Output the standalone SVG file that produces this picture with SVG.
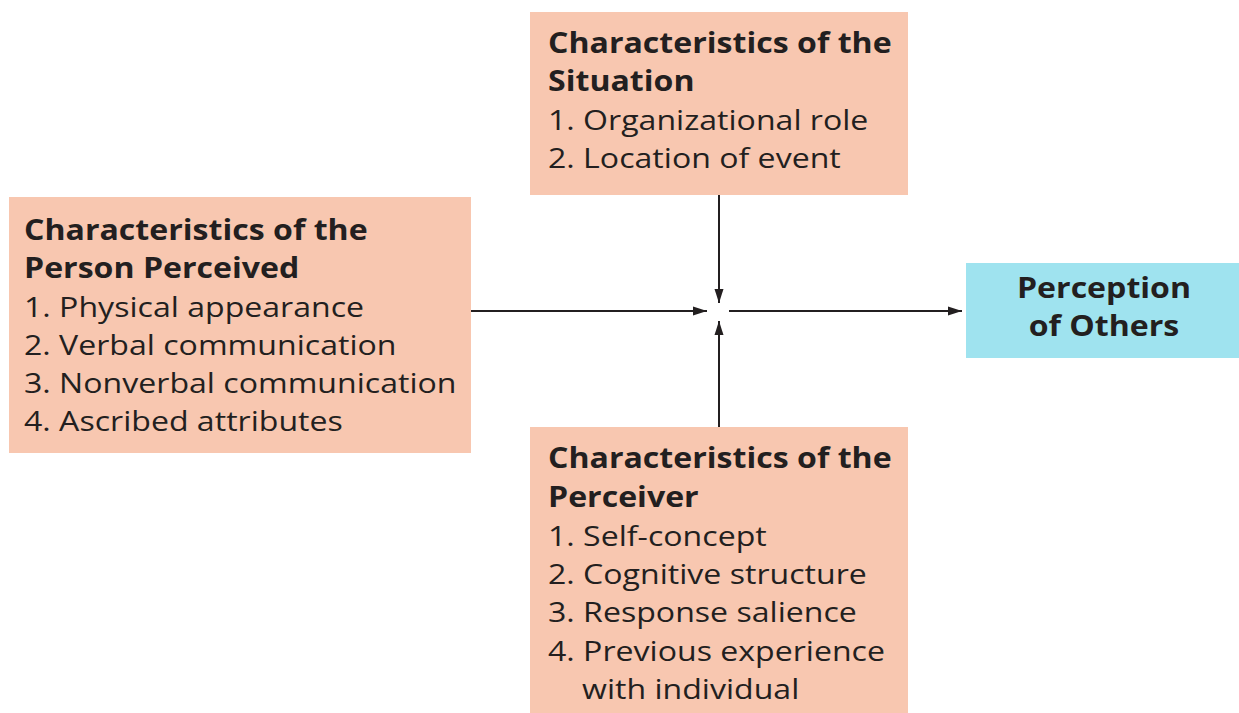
<svg xmlns="http://www.w3.org/2000/svg" width="1239" height="713" viewBox="0 0 1239 713">
<defs>
<style>
.box{fill:#F8C7B0;}
.out{fill:#9FE3EF;}
text{font-family:"Open Sans","Noto Sans",sans-serif;font-size:28px;fill:#231F20;}
.b{font-weight:bold;}
.ln{stroke:#231F20;stroke-width:2;fill:none;}
</style>
<marker id="ah" viewBox="0 0 14 10" refX="14" refY="5" markerWidth="14" markerHeight="10" markerUnits="userSpaceOnUse" orient="auto">
<path d="M0,0.5 L14,5 L0,9.5 Z" fill="#231F20"/>
</marker>
</defs>
<rect width="1239" height="713" fill="#fff"/>
<g id="situation">
<rect class="box" x="530" y="12" width="378" height="183"/>
<g transform="translate(548,0) scale(1.146,1)">
<text class="b" x="0" y="53">Characteristics of the</text>
<text class="b" x="0" y="91">Situation</text>
<text x="0" y="130">1. Organizational role</text>
<text x="0" y="168">2. Location of event</text>
</g>
</g>
<g id="person">
<rect class="box" x="9" y="197" width="462" height="256"/>
<g transform="translate(24,0) scale(1.146,1)">
<text class="b" x="0" y="240">Characteristics of the</text>
<text class="b" x="0" y="278">Person Perceived</text>
<text x="0" y="317">1. Physical appearance</text>
<text x="0" y="355">2. Verbal communication</text>
<text x="0" y="393">3. Nonverbal communication</text>
<text x="0" y="431">4. Ascribed attributes</text>
</g>
</g>
<g id="perceiver">
<rect class="box" x="530" y="427" width="378" height="286"/>
<g transform="translate(548,0) scale(1.146,1)">
<text class="b" x="0" y="468">Characteristics of the</text>
<text class="b" x="0" y="507">Perceiver</text>
<text x="0" y="546">1. Self-concept</text>
<text x="0" y="584">2. Cognitive structure</text>
<text x="0" y="622">3. Response salience</text>
<text x="0" y="661">4. Previous experience</text>
<text x="29.7" y="699">with individual</text>
</g>
</g>
<g id="perception">
<rect class="out" x="966" y="263" width="273" height="95"/>
<g transform="translate(1104,0) scale(1.146,1)">
<text class="b" x="0" y="298" text-anchor="middle">Perception</text>
<text class="b" x="0" y="336" text-anchor="middle">of Others</text>
</g>
</g>
<g id="connectors">
<line class="ln" x1="471" y1="311" x2="707" y2="311" marker-end="url(#ah)"/>
<line class="ln" x1="719" y1="195" x2="719" y2="303" marker-end="url(#ah)"/>
<line class="ln" x1="719" y1="427" x2="719" y2="321" marker-end="url(#ah)"/>
<line class="ln" x1="729" y1="311" x2="962" y2="311" marker-end="url(#ah)"/>
</g>
</svg>
